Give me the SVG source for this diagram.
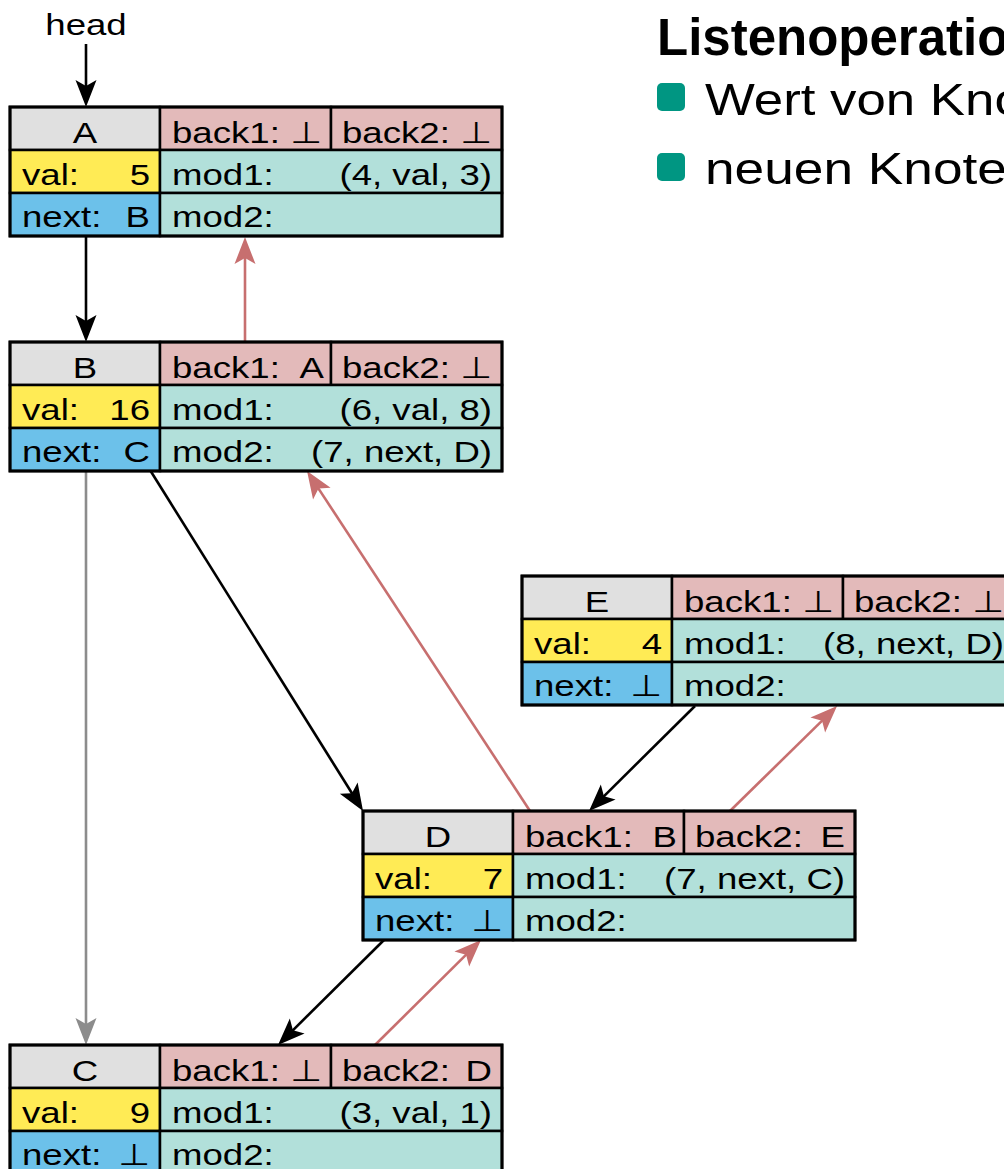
<svg xmlns="http://www.w3.org/2000/svg" width="1004" height="1169" viewBox="0 0 1004 1169">
<style>
.t{font-family:"Liberation Sans",Arial,"DejaVu Sans",sans-serif;font-size:30px;fill:#000}
.e{text-anchor:end}
.m{text-anchor:middle}
.hd{fill:#e0e0e0;stroke:#000;stroke-width:2.5}
.bk{fill:#e3baba;stroke:#000;stroke-width:2.5}
.vl{fill:#ffeb55;stroke:#000;stroke-width:2.5}
.nx{fill:#6cc1ea;stroke:#000;stroke-width:2.5}
.md{fill:#b2e0da;stroke:#000;stroke-width:2.5}
.ol{fill:none;stroke:#000;stroke-width:3}
.cb{stroke:#000;stroke-width:2.6;fill:none}
.cp{stroke:#c76f6f;stroke-width:2.6;fill:none}
.cg{stroke:#8c8c8c;stroke-width:2.6;fill:none}
.ti{font-family:"Liberation Sans",Arial,sans-serif;font-size:51px;font-weight:bold;fill:#000}
.bt{font-family:"Liberation Sans",Arial,sans-serif;font-size:44px;fill:#000}
.bl{fill:#009682}
</style>
<defs>
<marker id="ab" markerUnits="userSpaceOnUse" orient="auto" refX="0" refY="0" markerWidth="40" markerHeight="40" overflow="visible"><path d="M18,0 L-9,-10.5 L-3,0 L-9,10.5 Z" fill="#000"/></marker>
<marker id="ap" markerUnits="userSpaceOnUse" orient="auto" refX="0" refY="0" markerWidth="40" markerHeight="40" overflow="visible"><path d="M18,0 L-9,-10.5 L-3,0 L-9,10.5 Z" fill="#c76f6f"/></marker>
<marker id="ag" markerUnits="userSpaceOnUse" orient="auto" refX="0" refY="0" markerWidth="40" markerHeight="40" overflow="visible"><path d="M18,0 L-9,-10.5 L-3,0 L-9,10.5 Z" fill="#8c8c8c"/></marker>
</defs>

<g id="title">
<text class="ti" x="657" y="55">Listenoperatio</text>
<rect class="bl" x="657" y="83" width="28" height="28" rx="5"/>
<text class="bt" transform="translate(705,115) scale(1.2 1)">Wert von Kno</text>
<rect class="bl" x="657" y="153" width="28" height="28" rx="5"/>
<text class="bt" transform="translate(705,184) scale(1.21 1)">neuen Knote</text>
</g>

<g id="connectors">
<text class="t m" transform="translate(86,35) scale(1.22 1)">head</text>
<line class="cb" x1="86" y1="44" x2="86" y2="89" marker-end="url(#ab)"/>
<line class="cb" x1="86" y1="236" x2="86" y2="324" marker-end="url(#ab)"/>
<line class="cp" x1="245" y1="342" x2="245" y2="255" marker-end="url(#ap)"/>
<line class="cb" x1="150" y1="470" x2="353.5" y2="795.7" marker-end="url(#ab)"/>
<line class="cp" x1="530" y1="811" x2="316.9" y2="486.1" marker-end="url(#ap)"/>
<line class="cb" x1="695" y1="706" x2="601.8" y2="798.3" marker-end="url(#ab)"/>
<line class="cp" x1="730" y1="811" x2="824.2" y2="718.6" marker-end="url(#ap)"/>
<line class="cg" x1="86" y1="470" x2="86" y2="1027" marker-end="url(#ag)"/>
<line class="cb" x1="384" y1="940" x2="290.8" y2="1032.3" marker-end="url(#ab)"/>
<line class="cp" x1="375" y1="1045" x2="468.2" y2="952.7" marker-end="url(#ap)"/>
</g>

<g id="nodeA" transform="translate(10,107)">
<rect class="hd" x="0" y="0" width="150" height="43"/><rect class="bk" x="150" y="0" width="171" height="43"/><rect class="bk" x="321" y="0" width="171" height="43"/>
<rect class="vl" x="0" y="43" width="150" height="43"/><rect class="md" x="150" y="43" width="342" height="43"/>
<rect class="nx" x="0" y="86" width="150" height="43"/><rect class="md" x="150" y="86" width="342" height="43"/>
<rect class="ol" x="0" y="0" width="492" height="129"/>
<text class="t m" transform="translate(75,36) scale(1.22 1)">A</text>
<text class="t" transform="translate(162,36) scale(1.22 1)">back1:</text><text class="t e" transform="translate(312,36) scale(1.22 1)">⊥</text>
<text class="t" transform="translate(332,36) scale(1.22 1)">back2:</text><text class="t e" transform="translate(482,36) scale(1.22 1)">⊥</text>
<text class="t" transform="translate(12,78) scale(1.22 1)">val:</text><text class="t e" transform="translate(140,78) scale(1.22 1)">5</text>
<text class="t" transform="translate(162,78) scale(1.22 1)">mod1:</text><text class="t e" transform="translate(482,78) scale(1.22 1)">(4, val, 3)</text>
<text class="t" transform="translate(12,120) scale(1.22 1)">next:</text><text class="t e" transform="translate(140,120) scale(1.22 1)">B</text>
<text class="t" transform="translate(162,120) scale(1.22 1)">mod2:</text>
</g>

<g id="nodeB" transform="translate(10,342)">
<rect class="hd" x="0" y="0" width="150" height="43"/><rect class="bk" x="150" y="0" width="171" height="43"/><rect class="bk" x="321" y="0" width="171" height="43"/>
<rect class="vl" x="0" y="43" width="150" height="43"/><rect class="md" x="150" y="43" width="342" height="43"/>
<rect class="nx" x="0" y="86" width="150" height="43"/><rect class="md" x="150" y="86" width="342" height="43"/>
<rect class="ol" x="0" y="0" width="492" height="129"/>
<text class="t m" transform="translate(75,36) scale(1.22 1)">B</text>
<text class="t" transform="translate(162,36) scale(1.22 1)">back1:</text><text class="t e" transform="translate(314,36) scale(1.22 1)">A</text>
<text class="t" transform="translate(332,36) scale(1.22 1)">back2:</text><text class="t e" transform="translate(482,36) scale(1.22 1)">⊥</text>
<text class="t" transform="translate(12,78) scale(1.22 1)">val:</text><text class="t e" transform="translate(140,78) scale(1.22 1)">16</text>
<text class="t" transform="translate(162,78) scale(1.22 1)">mod1:</text><text class="t e" transform="translate(482,78) scale(1.22 1)">(6, val, 8)</text>
<text class="t" transform="translate(12,120) scale(1.22 1)">next:</text><text class="t e" transform="translate(140,120) scale(1.22 1)">C</text>
<text class="t" transform="translate(162,120) scale(1.22 1)">mod2:</text><text class="t e" transform="translate(482,120) scale(1.22 1)">(7, next, D)</text>
</g>

<g id="nodeE" transform="translate(522,576)">
<rect class="hd" x="0" y="0" width="150" height="43"/><rect class="bk" x="150" y="0" width="171" height="43"/><rect class="bk" x="321" y="0" width="171" height="43"/>
<rect class="vl" x="0" y="43" width="150" height="43"/><rect class="md" x="150" y="43" width="342" height="43"/>
<rect class="nx" x="0" y="86" width="150" height="43"/><rect class="md" x="150" y="86" width="342" height="43"/>
<rect class="ol" x="0" y="0" width="492" height="129"/>
<text class="t m" transform="translate(75,36) scale(1.22 1)">E</text>
<text class="t" transform="translate(162,36) scale(1.22 1)">back1:</text><text class="t e" transform="translate(312,36) scale(1.22 1)">⊥</text>
<text class="t" transform="translate(332,36) scale(1.22 1)">back2:</text><text class="t e" transform="translate(482,36) scale(1.22 1)">⊥</text>
<text class="t" transform="translate(12,78) scale(1.22 1)">val:</text><text class="t e" transform="translate(140,78) scale(1.22 1)">4</text>
<text class="t" transform="translate(162,78) scale(1.22 1)">mod1:</text><text class="t e" transform="translate(482,78) scale(1.22 1)">(8, next, D)</text>
<text class="t" transform="translate(12,120) scale(1.22 1)">next:</text><text class="t e" transform="translate(140,120) scale(1.22 1)">⊥</text>
<text class="t" transform="translate(162,120) scale(1.22 1)">mod2:</text>
</g>

<g id="nodeD" transform="translate(363,811)">
<rect class="hd" x="0" y="0" width="150" height="43"/><rect class="bk" x="150" y="0" width="171" height="43"/><rect class="bk" x="321" y="0" width="171" height="43"/>
<rect class="vl" x="0" y="43" width="150" height="43"/><rect class="md" x="150" y="43" width="342" height="43"/>
<rect class="nx" x="0" y="86" width="150" height="43"/><rect class="md" x="150" y="86" width="342" height="43"/>
<rect class="ol" x="0" y="0" width="492" height="129"/>
<text class="t m" transform="translate(75,36) scale(1.22 1)">D</text>
<text class="t" transform="translate(162,36) scale(1.22 1)">back1:</text><text class="t e" transform="translate(314,36) scale(1.22 1)">B</text>
<text class="t" transform="translate(332,36) scale(1.22 1)">back2:</text><text class="t e" transform="translate(482,36) scale(1.22 1)">E</text>
<text class="t" transform="translate(12,78) scale(1.22 1)">val:</text><text class="t e" transform="translate(140,78) scale(1.22 1)">7</text>
<text class="t" transform="translate(162,78) scale(1.22 1)">mod1:</text><text class="t e" transform="translate(482,78) scale(1.22 1)">(7, next, C)</text>
<text class="t" transform="translate(12,120) scale(1.22 1)">next:</text><text class="t e" transform="translate(140,120) scale(1.22 1)">⊥</text>
<text class="t" transform="translate(162,120) scale(1.22 1)">mod2:</text>
</g>

<g id="nodeC" transform="translate(10,1045)">
<rect class="hd" x="0" y="0" width="150" height="43"/><rect class="bk" x="150" y="0" width="171" height="43"/><rect class="bk" x="321" y="0" width="171" height="43"/>
<rect class="vl" x="0" y="43" width="150" height="43"/><rect class="md" x="150" y="43" width="342" height="43"/>
<rect class="nx" x="0" y="86" width="150" height="43"/><rect class="md" x="150" y="86" width="342" height="43"/>
<rect class="ol" x="0" y="0" width="492" height="129"/>
<text class="t m" transform="translate(75,36) scale(1.22 1)">C</text>
<text class="t" transform="translate(162,36) scale(1.22 1)">back1:</text><text class="t e" transform="translate(312,36) scale(1.22 1)">⊥</text>
<text class="t" transform="translate(332,36) scale(1.22 1)">back2:</text><text class="t e" transform="translate(482,36) scale(1.22 1)">D</text>
<text class="t" transform="translate(12,78) scale(1.22 1)">val:</text><text class="t e" transform="translate(140,78) scale(1.22 1)">9</text>
<text class="t" transform="translate(162,78) scale(1.22 1)">mod1:</text><text class="t e" transform="translate(482,78) scale(1.22 1)">(3, val, 1)</text>
<text class="t" transform="translate(12,120) scale(1.22 1)">next:</text><text class="t e" transform="translate(140,120) scale(1.22 1)">⊥</text>
<text class="t" transform="translate(162,120) scale(1.22 1)">mod2:</text>
</g>
</svg>
